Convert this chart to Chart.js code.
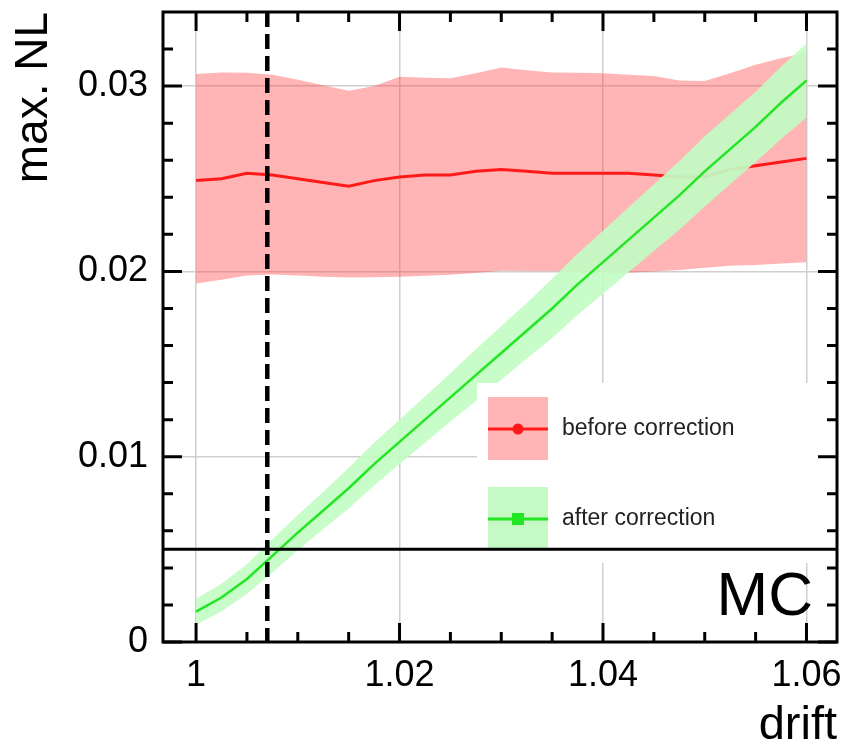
<!DOCTYPE html>
<html>
<head>
<meta charset="utf-8">
<script src="https://cdn.jsdelivr.net/npm/chart.js@4.4.1/dist/chart.umd.min.js"></script>
<style>
  html, body { margin: 0; padding: 0; background: #fff; }
</style>
</head>
<body>
<canvas id="chart" width="848" height="743"></canvas>
<script>
const drift = [1.0, 1.0025, 1.005, 1.0075, 1.01, 1.0125, 1.015, 1.0175, 1.02, 1.0225, 1.025, 1.0275, 1.03,
               1.0325, 1.035, 1.0375, 1.04, 1.0425, 1.045, 1.0475, 1.05, 1.0525, 1.055, 1.0575, 1.06];

// before correction: central value and band
const beforeMid  = [0.0249, 0.0250, 0.0253, 0.0252, 0.0250, 0.0248, 0.0246, 0.0249, 0.0251, 0.0252, 0.0252, 0.0254, 0.0255,
                    0.0254, 0.0253, 0.0253, 0.0253, 0.0253, 0.0252, 0.0251, 0.0251, 0.0255, 0.0257, 0.0259, 0.0261];
const beforeHigh = [0.03065, 0.03074, 0.03072, 0.03062, 0.03035, 0.03005, 0.02975, 0.0300, 0.0305, 0.03045, 0.03043, 0.0307, 0.0310,
                    0.03085, 0.03074, 0.03072, 0.0307, 0.03062, 0.03055, 0.0303, 0.03028, 0.0307, 0.03115, 0.0315, 0.0318];
const beforeLow  = [0.01935, 0.01955, 0.01978, 0.01984, 0.01978, 0.01971, 0.01967, 0.01968, 0.01971, 0.01976, 0.01982, 0.01992, 0.02003,
                    0.02002, 0.02002, 0.01998, 0.01995, 0.01993, 0.0200, 0.02008, 0.0202, 0.0203, 0.02035, 0.02043, 0.0205];

// after correction: central value and band
const afterMid  = [0.00164, 0.0024, 0.0034, 0.00465, 0.0059, 0.0071, 0.0083, 0.0096, 0.0108, 0.0120, 0.0132, 0.0144, 0.0156,
                   0.0168, 0.0180, 0.0193, 0.0205, 0.0217, 0.0229, 0.0241, 0.0254, 0.0266, 0.0278, 0.0291, 0.0303];
const afterHigh = [0.00234, 0.00315, 0.0042, 0.00555, 0.00685, 0.0081, 0.0094, 0.01075, 0.0120, 0.01325, 0.0145, 0.0158, 0.01705,
                   0.0183, 0.0196, 0.02095, 0.0222, 0.02345, 0.0247, 0.02595, 0.0273, 0.0285, 0.0297, 0.03105, 0.0323];
const afterLow  = [0.00094, 0.00165, 0.0026, 0.00375, 0.00495, 0.0061, 0.0072, 0.00845, 0.0096, 0.01075, 0.0119, 0.0130, 0.01415,
                   0.0153, 0.0164, 0.01765, 0.0188, 0.01995, 0.0211, 0.02225, 0.0235, 0.0247, 0.0259, 0.02715, 0.0283];

const xMajorTicks = [1, 1.02, 1.04, 1.06];
const xMinorTicks = [1.005, 1.01, 1.015, 1.025, 1.03, 1.035, 1.045, 1.05, 1.055];
const yMajorTicks = [0, 0.01, 0.02, 0.03];
const yMinorTicks = [0.002, 0.004, 0.006, 0.008, 0.012, 0.014, 0.016, 0.018, 0.022, 0.024, 0.026, 0.028, 0.032];

const mcLevel = 0.005;
const nominalDrift = 1.007;
const legendLabels = ['before correction', 'after correction'];

const FONT = 'Liberation Sans, Arial, Helvetica, sans-serif';
const RED_BAND = 'rgba(255,60,60,0.38)';

function pts(ys) {
    return drift.map((d, i) => ({ x: d, y: ys[i] }));
}

function band(ys, fill, color) {
    return { data: pts(ys), borderWidth: 0, pointRadius: 0, fill: fill, backgroundColor: color, tension: 0 };
}

const overlay = {
    id: 'overlay',
    afterDatasetsDraw(chart) {
        const { ctx, chartArea: a, scales: { x, y } } = chart;
        ctx.save();

        // legend box (white, hides grid and band behind it)
        const lx = a.left + 314;
        ctx.fillStyle = '#fff';
        ctx.fillRect(lx, 383, a.right - lx, 180);

        const sw = [
            { top: 397, h: 63, fill: RED_BAND, line: '#ff1a1a', marker: 'circle' },
            { top: 487, h: 61, fill: 'rgba(150,245,150,0.55)', line: '#22e622', marker: 'square' }
        ];
        sw.forEach((s, i) => {
            const sx = lx + 11;
            ctx.fillStyle = s.fill;
            ctx.fillRect(sx, s.top, 60, s.h);
            const cy = s.top + 32;
            ctx.strokeStyle = s.line;
            ctx.lineWidth = 3;
            ctx.beginPath();
            ctx.moveTo(sx, cy);
            ctx.lineTo(sx + 60, cy);
            ctx.stroke();
            ctx.fillStyle = s.line;
            if (s.marker === 'circle') {
                ctx.beginPath();
                ctx.arc(sx + 30, cy, 5.5, 0, Math.PI * 2);
                ctx.fill();
            } else {
                ctx.fillRect(sx + 24, cy - 6, 12, 12);
            }
            ctx.fillStyle = '#222';
            ctx.font = '23px ' + FONT;
            ctx.textAlign = 'left';
            ctx.textBaseline = 'middle';
            ctx.fillText(legendLabels[i], sx + 74, cy);
        });

        // MC reference level
        const my = y.getPixelForValue(mcLevel);
        ctx.strokeStyle = '#000';
        ctx.lineWidth = 3;
        ctx.beginPath();
        ctx.moveTo(a.left, my);
        ctx.lineTo(a.right, my);
        ctx.stroke();

        // nominal drift marker
        const dx = x.getPixelForValue(nominalDrift);
        ctx.lineWidth = 4.5;
        ctx.setLineDash([15, 7]);
        ctx.beginPath();
        ctx.moveTo(dx, a.top);
        ctx.lineTo(dx, a.bottom);
        ctx.stroke();
        ctx.setLineDash([]);

        // frame
        ctx.lineWidth = 3;
        ctx.strokeRect(a.left, a.top, a.right - a.left, a.bottom - a.top);

        // inward ticks on all sides
        const xtick = (vals, len) => {
            vals.forEach(v => {
                const px = x.getPixelForValue(v);
                ctx.beginPath();
                ctx.moveTo(px, a.bottom); ctx.lineTo(px, a.bottom - len);
                ctx.moveTo(px, a.top); ctx.lineTo(px, a.top + len);
                ctx.stroke();
            });
        };
        const ytick = (vals, len) => {
            vals.forEach(v => {
                const py = y.getPixelForValue(v);
                ctx.beginPath();
                ctx.moveTo(a.left, py); ctx.lineTo(a.left + len, py);
                ctx.moveTo(a.right, py); ctx.lineTo(a.right - len, py);
                ctx.stroke();
            });
        };
        xtick(xMajorTicks, 19);
        xtick(xMinorTicks, 10);
        ytick(yMajorTicks, 19);
        ytick(yMinorTicks, 10);

        ctx.fillStyle = '#000';
        ctx.font = '62px ' + FONT;
        ctx.textAlign = 'right';
        ctx.textBaseline = 'alphabetic';
        ctx.fillText('MC', a.right - 24, my + 66);

        ctx.restore();
    }
};

new Chart(document.getElementById('chart'), {
    type: 'line',
    data: {
        datasets: [
            { data: pts(afterMid), borderColor: '#22e622', borderWidth: 2.5, pointRadius: 0, fill: false },
            band(afterHigh, '+1', 'rgba(195,252,195,0.92)'),
            band(afterLow, false, 'transparent'),
            { data: pts(beforeMid), borderColor: '#ff1a1a', borderWidth: 3, pointRadius: 0, fill: false },
            band(beforeHigh, '+1', RED_BAND),
            band(beforeLow, false, 'transparent')
        ]
    },
    options: {
        responsive: false,
        devicePixelRatio: 1,
        animation: false,
        layout: { padding: { top: 12, right: 11, left: 0, bottom: 0 } },
        plugins: { legend: { display: false }, tooltip: { enabled: false } },
        scales: {
            x: {
                type: 'linear',
                min: 0.99675,
                max: 1.063,
                afterFit: s => { s.height = 101; s.paddingLeft = 0; s.paddingRight = 0; },
                afterBuildTicks: s => { s.ticks = xMajorTicks.map(v => ({ value: v })); },
                border: { display: false },
                grid: { color: '#cfcfcf', lineWidth: 1.5, drawTicks: false },
                ticks: {
                    color: '#000',
                    padding: 12,
                    font: { family: FONT, size: 36 },
                    callback: v => (v === 1 ? '1' : v.toFixed(2))
                },
                title: {
                    display: true,
                    text: 'drift',
                    align: 'end',
                    color: '#000',
                    padding: 0,
                    font: { family: FONT, size: 47, lineHeight: 0.72 }
                }
            },
            y: {
                type: 'linear',
                min: 0,
                max: 0.034,
                afterFit: s => { s.width = 163; s.paddingTop = 0; s.paddingBottom = 0; },
                afterBuildTicks: s => { s.ticks = yMajorTicks.map(v => ({ value: v })); },
                border: { display: false },
                grid: { color: '#cfcfcf', lineWidth: 1.5, drawTicks: false },
                ticks: {
                    color: '#000',
                    padding: 15,
                    font: { family: FONT, size: 36 },
                    callback: v => (v === 0 ? '0' : v.toFixed(2))
                },
                title: {
                    display: true,
                    text: 'max. NL',
                    align: 'end',
                    color: '#000',
                    padding: { top: 11, bottom: 0 },
                    font: { family: FONT, size: 46, lineHeight: 1 }
                }
            }
        }
    },
    plugins: [overlay]
});
</script>
</body>
</html>
